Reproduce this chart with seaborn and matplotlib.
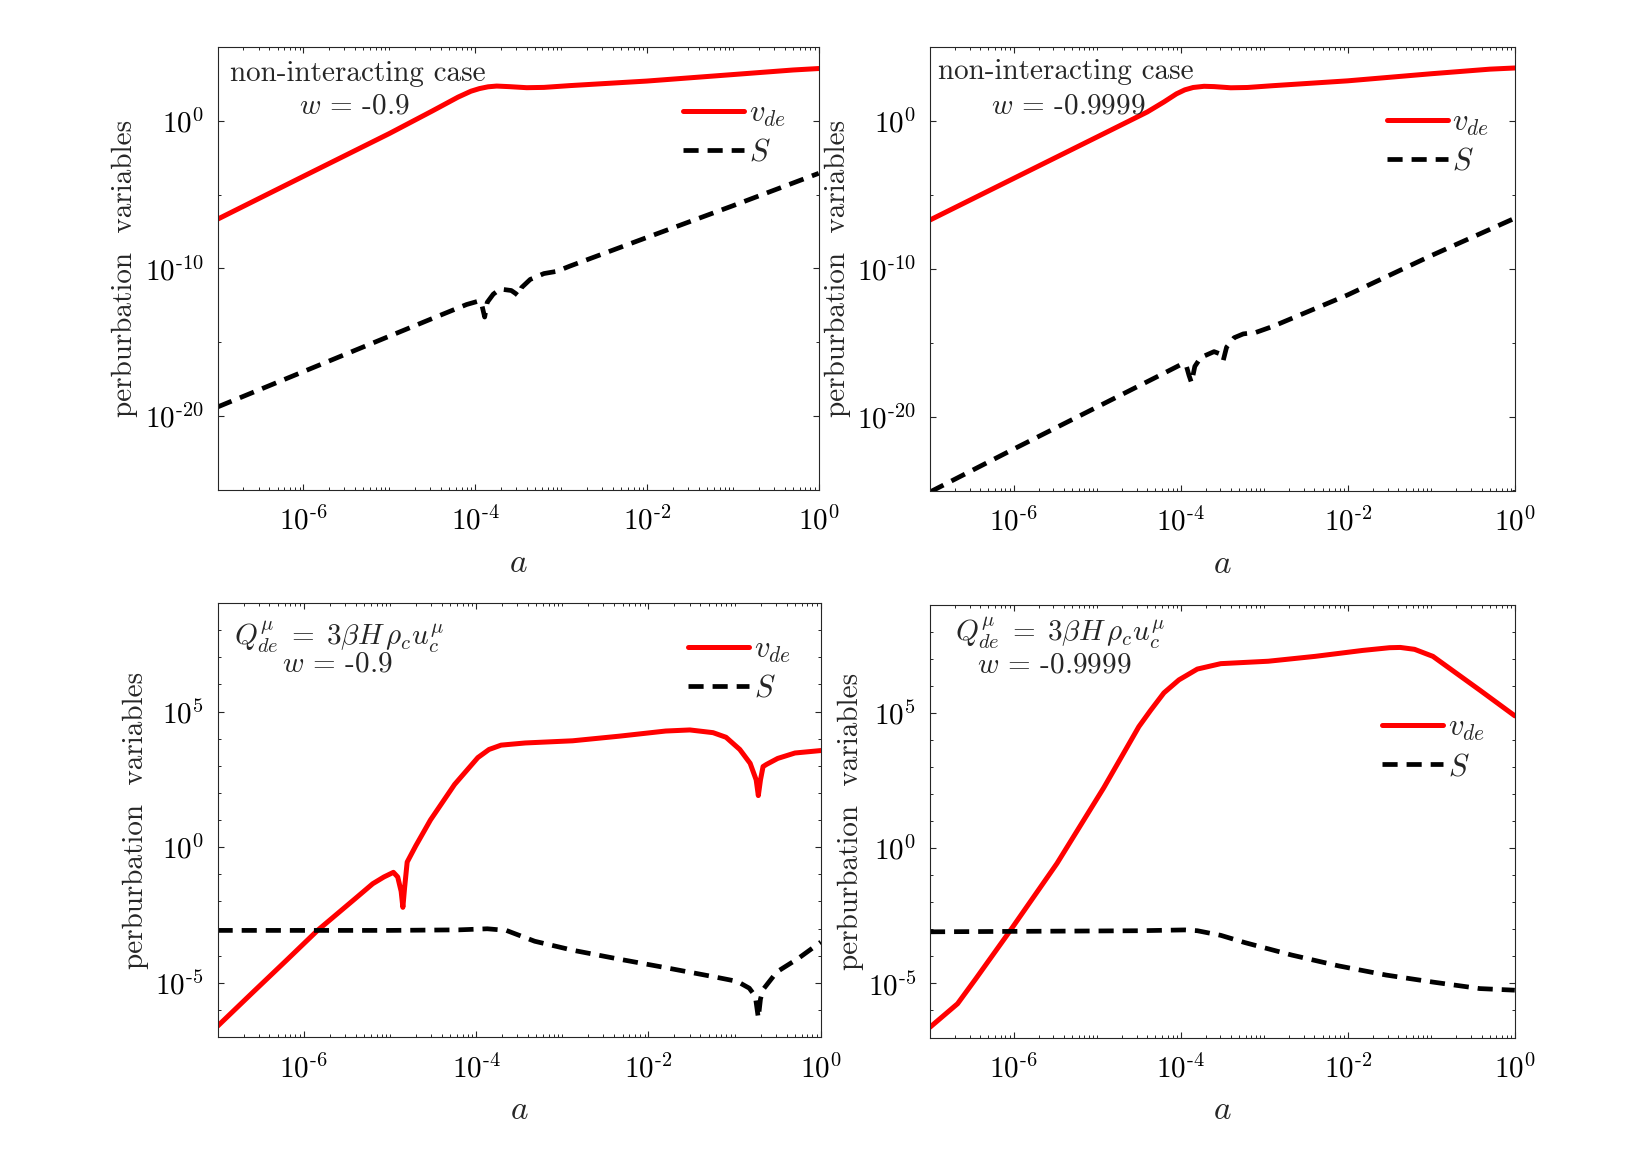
import numpy as np
import matplotlib
matplotlib.use("Agg")
import matplotlib.pyplot as plt
from matplotlib import ticker
import seaborn as sns

# ---------------- data (log10 exponents) ----------------
# Panel 1: non-interacting, w = -0.9
p1_a_vde = [-7, -6, -5, -4.5, -4.2, -4.05, -3.95, -3.85, -3.75, -3.6, -3.4, -3.2, -2.9, -2.0, -1.0, -0.3, 0]
p1_vde = [-6.66, -3.75, -0.85, 0.68, 1.62, 2.02, 2.2, 2.32, 2.37, 2.33, 2.26, 2.28, 2.40, 2.71, 3.15, 3.46, 3.56]
p1_a_S = [-7, -6, -5, -4.5, -4.1, -3.95, -3.92, -3.89, -3.86, -3.79, -3.71, -3.58, -3.53, -3.50, -3.46,
          -3.36, -3.2, -3.05, -2.9, -2.0, -1.0, 0]
p1_S = [-19.4, -17.0, -14.6, -13.4, -12.45, -12.2, -12.55, -13.3, -12.3, -11.75, -11.4, -11.5, -11.7, -11.85,
        -11.3, -10.75, -10.35, -10.2, -9.85, -7.9, -5.75, -3.55]

# Panel 2: non-interacting, w = -0.9999
p2_a_vde = [-7, -6, -5, -4.4, -4.2, -4.05, -3.95, -3.85, -3.72, -3.6, -3.4, -3.2, -2.9, -2.0, -1.0, -0.3, 0]
p2_vde = [-6.69, -3.88, -1.07, 0.62, 1.3, 1.85, 2.12, 2.28, 2.36, 2.34, 2.26, 2.28, 2.40, 2.73, 3.21, 3.52, 3.6]
p2_a_S = [-7, -6, -5, -4.3, -3.97, -3.93, -3.90, -3.87, -3.83, -3.76, -3.6, -3.53, -3.49, -3.45, -3.36,
          -3.25, -3.1, -2.9, -2.0, -1.0, 0]
p2_S = [-25.1, -22.2, -19.35, -17.35, -16.4, -16.6, -17.2, -17.7, -16.6, -16.0, -15.6, -15.75, -16.2, -15.3,
        -14.66, -14.4, -14.3, -13.9, -11.76, -9.1, -6.57]

# Panel 3: interacting, w = -0.9
p3_a_vde = [-7, -6.6, -6.2, -5.84, -5.4, -5.2, -5.07, -4.96, -4.91, -4.87, -4.85, -4.83, -4.80, -4.70, -4.53,
            -4.25, -3.98, -3.85, -3.71, -3.43, -2.88, -2.34, -1.80, -1.52, -1.25, -1.1, -0.94, -0.82, -0.75,
            -0.725, -0.70, -0.67, -0.63, -0.50, -0.30, 0]
p3_vde = [-6.6, -5.38, -4.17, -3.07, -1.89, -1.35, -1.10, -0.93, -1.10, -1.63, -2.22, -1.5, -0.55, 0.05, 1.0,
          2.31, 3.30, 3.6, 3.76, 3.84, 3.92, 4.09, 4.28, 4.32, 4.22, 4.05, 3.6, 3.09, 2.48,
          1.9, 2.48, 2.97, 3.05, 3.27, 3.47, 3.56]
p3_a_S = [-7, -5, -4.2, -3.87, -3.65, -3.32, -2.88, -2.34, -1.79, -1.24, -0.97, -0.83, -0.76, -0.725, -0.70,
          -0.67, -0.51, -0.26, 0]
p3_S = [-3.07, -3.07, -3.05, -3.01, -3.07, -3.47, -3.80, -4.13, -4.45, -4.78, -4.95, -5.2, -5.5, -6.3, -5.6,
        -5.25, -4.6, -4.1, -3.5]

# Panel 4: interacting, w = -0.9999
p4_a_vde = [-7, -6.67, -6.45, -6.05, -5.48, -4.92, -4.5, -4.36, -4.2, -4.02, -3.80, -3.52, -2.95, -2.39, -1.82,
            -1.5, -1.37, -1.2, -0.98, -0.41, 0]
p4_vde = [-6.62, -5.75, -4.82, -3.09, -0.56, 2.24, 4.5, 5.1, 5.75, 6.23, 6.63, 6.83, 6.92, 7.10, 7.32,
          7.42, 7.43, 7.36, 7.10, 5.83, 4.90]
p4_a_S = [-7, -4.5, -3.95, -3.80, -3.52, -3.23, -2.67, -2.11, -1.54, -0.98, -0.42, 0]
p4_S = [-3.09, -3.05, -3.02, -3.05, -3.22, -3.49, -3.95, -4.35, -4.69, -4.95, -5.19, -5.25]

# tick values
x_major = [-6, -4, -2, 0]
y_major_top = [-20, -10, 0]
y_minor_top = [-25, -15, -5, 5]
y_major_bot = [-5, 0, 5]

ylabel_text = "perburbation  variables"
legend_labels = [r"$v_{de}$", r"$S$"]
q_text = r"$Q^{\mu}_{de}\;=\;3\beta H\,\rho_c u^{\mu}_c$"
titles = [("non-interacting case", r"$w$ = -0.9"),
          ("non-interacting case", r"$w$ = -0.9999"),
          (q_text, r"$w$ = -0.9"),
          (q_text, r"$w$ = -0.9999")]

# ---------------- style ----------------
sns.set_theme(style="ticks")
plt.rcParams.update({
    "font.family": ["cmr10", "DejaVu Serif"],
    "mathtext.fontset": "cm",
    "axes.formatter.use_mathtext": True,
    "axes.unicode_minus": False,
    "axes.edgecolor": "#262626",
    "axes.linewidth": 0.8,
    "xtick.color": "#262626",
    "ytick.color": "#262626",
    "xtick.labelcolor": "black",
    "ytick.labelcolor": "black",
})


def pow_label(v, pos):
    e = int(round(np.log10(v)))
    if e < 0:
        return r"$\mathdefault{10^{\text{-}%d}}$" % (-e)
    return r"$\mathdefault{10^{%d}}$" % e


W, H = 1648, 1157
fig = plt.figure(figsize=(W / 100, H / 100), dpi=100)

# pixel boxes (left, top, right, bottom)
boxes = [(217.6, 47.3, 818.7, 489.5),
         (930.0, 47.3, 1514.8, 490.5),
         (217.6, 603.0, 820.8, 1037.0),
         (930.0, 605.0, 1514.8, 1037.5)]

panels = [(p1_a_vde, p1_vde, p1_a_S, p1_S),
          (p2_a_vde, p2_vde, p2_a_S, p2_S),
          (p3_a_vde, p3_vde, p3_a_S, p3_S),
          (p4_a_vde, p4_vde, p4_a_S, p4_S)]

text_pos = [((0.021, 0.940), (0.136, 0.866)),
            ((0.0145, 0.944), (0.104, 0.866)),
            ((0.027, 0.922), (0.107, 0.858)),
            ((0.042, 0.934), (0.081, 0.860))]
legend_pos = [(0.774, 0.805), (0.781, 0.785), (0.78, 0.847), (0.773, 0.670)]
ylabel_x = [-0.132, -0.135, -0.113, -0.113]

FS = 21
TFS = 21

for i, (box, (av, v, aS, S)) in enumerate(zip(boxes, panels)):
    l, t, r, b = box
    ax = fig.add_axes([l / W, 1 - b / H, (r - l) / W, (b - t) / H])
    ax.set_xscale("log")
    ax.set_yscale("log")
    sns.lineplot(x=10.0 ** np.array(av), y=10.0 ** np.array(v), ax=ax, color="#ff0000",
                 linewidth=3.6, sort=False, estimator=None, label=legend_labels[0])
    sns.lineplot(x=10.0 ** np.array(aS), y=10.0 ** np.array(S), ax=ax, color="black",
                 linewidth=3.4, linestyle=(0, (3.2, 1.9)), sort=False, estimator=None,
                 label=legend_labels[1])
    ax.set_xlim(1e-7, 1e0)
    if i < 2:
        ax.set_ylim(1e-25, 1e5)
        ax.yaxis.set_major_locator(ticker.FixedLocator(10.0 ** np.array(y_major_top)))
        ax.yaxis.set_minor_locator(ticker.FixedLocator(10.0 ** np.array(y_minor_top)))
    else:
        ax.set_ylim(1e-7, 1e9)
        ax.yaxis.set_major_locator(ticker.FixedLocator(10.0 ** np.array(y_major_bot)))
        ax.yaxis.set_minor_locator(ticker.LogLocator(base=10, subs=(1.0,), numticks=60))
    ax.xaxis.set_major_locator(ticker.FixedLocator(10.0 ** np.array(x_major)))
    ax.xaxis.set_minor_locator(ticker.LogLocator(base=10, subs=np.arange(1, 10), numticks=60))
    ax.xaxis.set_major_formatter(ticker.FuncFormatter(pow_label))
    ax.yaxis.set_major_formatter(ticker.FuncFormatter(pow_label))
    ax.xaxis.set_minor_formatter(ticker.NullFormatter())
    ax.yaxis.set_minor_formatter(ticker.NullFormatter())
    ax.tick_params(which="both", direction="in", top=True, right=True, labelsize=FS)
    ax.tick_params(which="major", length=4.5, width=0.8, pad=10)
    ax.tick_params(axis="x", which="major", pad=12)
    ax.tick_params(which="minor", length=2.3, width=0.7)
    for s in ax.spines.values():
        s.set_visible(True)
        s.set_color("#262626")
        s.set_linewidth(0.8)

    ax.set_ylabel(ylabel_text, fontsize=TFS)
    ax.yaxis.set_label_coords(ylabel_x[i], 0.5)
    ax.set_xlabel(r"$a$", fontsize=24)
    ax.xaxis.set_label_coords(0.5, -0.135)

    (x1, y1), (x2, y2) = text_pos[i]
    ax.text(x1, y1, titles[i][0], transform=ax.transAxes, fontsize=TFS, ha="left", va="center")
    ax.text(x2, y2, titles[i][1], transform=ax.transAxes, fontsize=TFS, ha="left", va="center")

    lx, ly = legend_pos[i]
    ax.legend(loc="center left", bbox_to_anchor=(lx, ly), frameon=False, fontsize=22,
              handlelength=2.0, handletextpad=0.15, labelspacing=0.35, borderaxespad=0, borderpad=0)

fig.savefig("out.png", dpi=100, facecolor="white")
